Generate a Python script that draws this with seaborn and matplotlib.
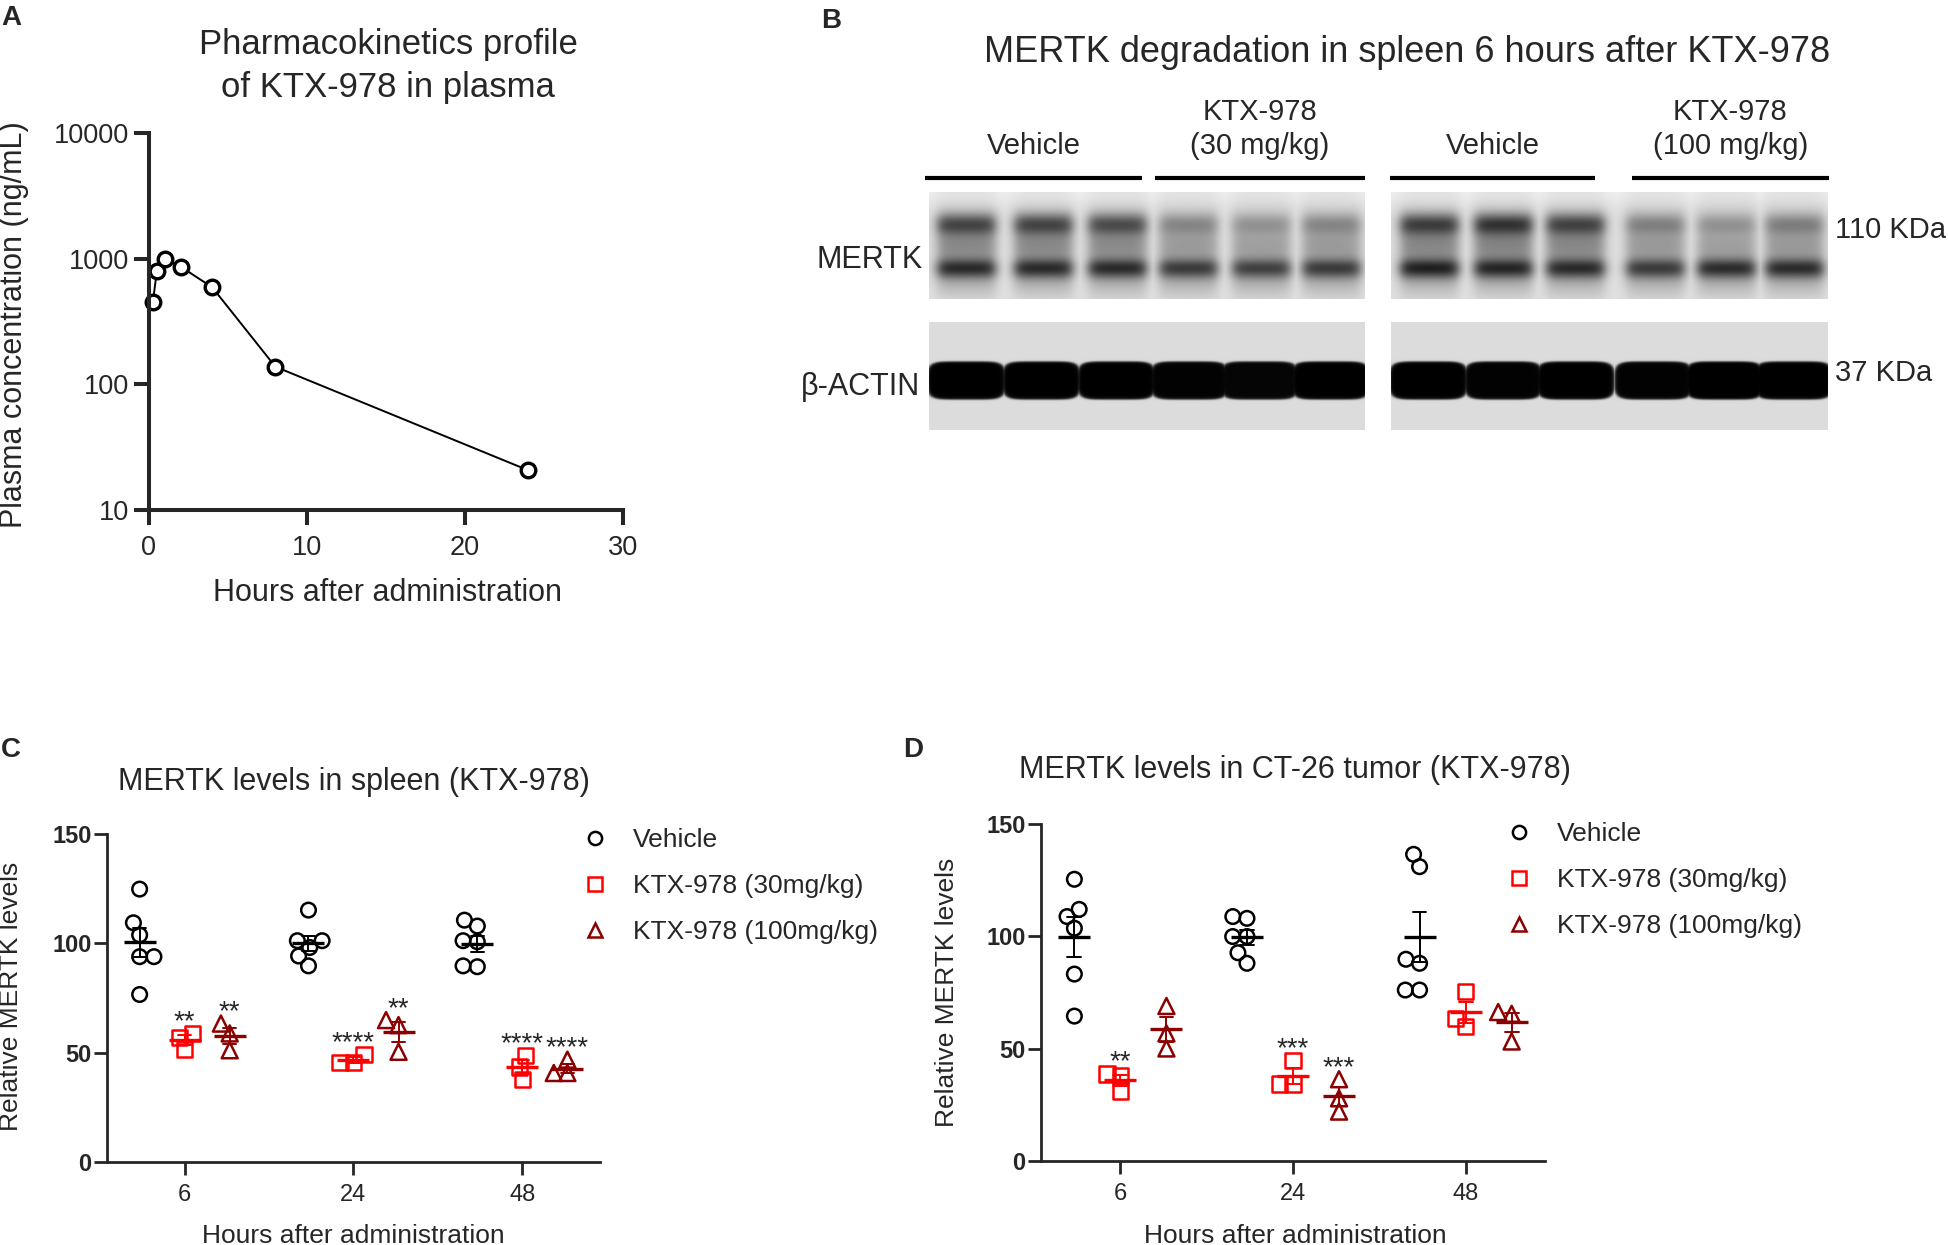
import numpy as np
import pandas as pd
import matplotlib
matplotlib.use('Agg')
import matplotlib.pyplot as plt
from matplotlib.lines import Line2D
from matplotlib.ticker import NullLocator
import seaborn as sns

W, H = 1949, 1245

# ---- panel A: plasma PK ----
pk_hours = [0.25, 0.5, 1, 2, 4, 8, 24]
pk_conc = [455, 803, 995, 864, 592, 138, 20.7]

# ---- panel B: western blot, band darkness per lane (0 = none, 1 = black) ----
blot_groups = ['Vehicle', 'KTX-978\n(30 mg/kg)', 'Vehicle', 'KTX-978\n(100 mg/kg)']
mertk_upper = [0.55, 0.55, 0.52, 0.30, 0.25, 0.30, 0.58, 0.62, 0.56, 0.32, 0.25, 0.33]
mertk_lower = [0.64, 0.64, 0.64, 0.58, 0.56, 0.58, 0.68, 0.66, 0.64, 0.58, 0.64, 0.64]
actin_band = [0.86, 0.86, 0.86, 0.85, 0.84, 0.86, 0.86, 0.85, 0.86, 0.85, 0.87, 0.86]

# ---- panels C and D: relative MERTK levels ----
times = ['6', '24', '48']
groups = ['Vehicle', 'KTX-978 (30mg/kg)', 'KTX-978 (100mg/kg)']

spleen_vehicle = [[124.8, 109.4, 103.8, 93.9, 93.9, 76.6],
                  [115.2, 101.2, 101.2, 98.1, 94.2, 89.7],
                  [107.9, 110.6, 100.7, 101.2, 89.3, 89.7]]
spleen_30 = [[58.8, 56.9, 51.4], [45.5, 49.3, 45.5], [48.8, 43.5, 37.7]]
spleen_100 = [[63.3, 58.8, 51.1], [64.9, 62.6, 50.4], [46.8, 40.7, 40.7]]
spleen_stars = [['', '**', '**'], ['', '****', '**'], ['', '****', '****']]

tumor_vehicle = [[125.4, 112.0, 108.8, 103.6, 83.2, 64.5],
                 [108.0, 108.8, 99.9, 99.9, 92.7, 88.0],
                 [131.0, 136.5, 88.0, 89.8, 76.1, 76.1]]
tumor_30 = [[38.7, 38.0, 31.2], [44.7, 34.3, 34.3], [75.4, 63.5, 59.8]]
tumor_100 = [[69.0, 56.8, 50.1], [36.4, 27.9, 22.0], [66.3, 65.5, 53.2]]
tumor_stars = [['', '**', ''], ['', '***', '***'], ['', '', '']]

colors = ['black', '#ff0000', '#8b0000']
markers = ['o', 's', '^']
palette = dict(zip(groups, colors))

sns.set_style('ticks')
plt.rcParams['font.family'] = ['Liberation Sans', 'DejaVu Sans']
plt.rcParams['axes.linewidth'] = 2.0


def rect_px(x0, y0, x1, y1):
    return [x0 / W, 1 - y1 / H, (x1 - x0) / W, (y1 - y0) / H]


def fxy(x, y):
    return x / W, 1 - y / H


def to_frame(vehicle, low, high):
    rows = []
    for g, series in zip(groups, [vehicle, low, high]):
        for t, vals in zip(times, series):
            for v in vals:
                rows.append((t, g, v))
    return pd.DataFrame(rows, columns=['time', 'group', 'value'])


fig = plt.figure(figsize=(W / 100, H / 100), dpi=100)

# ---------------- A ----------------
ax_a = fig.add_axes(rect_px(149, 133, 623, 510))
sns.lineplot(x=pk_hours, y=pk_conc, ax=ax_a, color='black', lw=1.4, marker='o',
             markersize=10.5, markerfacecolor='white', markeredgecolor='black',
             markeredgewidth=2.4)
for ln in ax_a.lines:
    ln.set_clip_on(False)
ax_a.set_yscale('log')
ax_a.set_ylim(10, 10000)
ax_a.set_xlim(0, 30)
ax_a.set_yticks([10, 100, 1000, 10000])
ax_a.set_yticklabels(['10', '100', '1000', '10000'])
ax_a.yaxis.set_minor_locator(NullLocator())
ax_a.set_xticks([0, 10, 20, 30])
sns.despine(ax=ax_a)
for s in ['left', 'bottom']:
    ax_a.spines[s].set_linewidth(2.9)
ax_a.tick_params(width=2.9, length=11, labelsize=19.5, pad=3)
ax_a.tick_params(axis='x', pad=7)
fig.text(*fxy(388, 66), 'Pharmacokinetics profile\nof KTX-978 in plasma',
         ha='center', va='center', size=25, linespacing=1.35)
fig.text(*fxy(388, 593), 'Hours after administration', ha='center', va='center', size=22)
fig.text(*fxy(14, 325), 'Plasma concentration (ng/mL)', ha='center', va='center',
         size=22, rotation=90)

# ---------------- B ----------------
ax_b = fig.add_axes([0, 0, 1, 1], zorder=-1)
ax_b.axis('off')
mertk_lane_x = [[37, 114, 188, 259, 332, 402], [38, 112, 184, 264, 335, 403]]
actin_lane_x = [[37, 112, 187, 260, 330, 401], [37, 112, 184, 262, 333, 402]]
blot_x = [(929, 1365), (1391, 1828)]


def lane_profile(xs, centers, half, soft):
    prof = np.zeros((len(centers), xs.size))
    for k, c in enumerate(centers):
        prof[k] = 1 / (1 + np.exp((np.abs(xs - c) - half) / soft))
    return prof


for b in range(2):
    x0, x1 = blot_x[b]
    w = x1 - x0
    xs = np.arange(w)
    # MERTK blot
    h = 107
    ys = np.arange(h)[:, None]
    dark = np.zeros((h, w))
    prof = lane_profile(xs, mertk_lane_x[b], 29, 3.5)
    for k in range(6):
        i = b * 6 + k
        band = (mertk_upper[i] * np.exp(-0.5 * ((ys - 32) / 8.5) ** 2)
                + mertk_lower[i] * np.exp(-0.5 * ((ys - 76) / 7.5) ** 2)
                + (0.14 + 0.25 * mertk_upper[i]) * np.exp(-0.5 * ((ys - 54) / 10) ** 2)
                + 0.10 * np.exp(-0.5 * ((ys - 93) / 8) ** 2)
                + 0.04)
        dark = np.maximum(dark, band * prof[k][None, :])
    img = 0.93 - 0.05 * (1 - np.exp(-(ys / 12.0) ** 2)) - dark
    ax_b.imshow(np.clip(img, 0, 1), cmap='gray', vmin=0, vmax=1, aspect='auto',
                extent=(x0, x1, 192 + h, 192), interpolation='bilinear')
    # actin blot: rounded, nearly touching bands
    h = 108
    ys = np.arange(h)[:, None]
    dark = np.zeros((h, w))
    for k, c in enumerate(actin_lane_x[b]):
        i = b * 6 + k
        r = (np.abs(xs[None, :] - c) / 39.0) ** 6 + (np.abs(ys - 58) / 19.0) ** 4
        dark = np.maximum(dark, actin_band[i] / (1 + np.exp((r - 1) / 0.12)))
    img = 0.86 - dark
    ax_b.imshow(np.clip(img, 0, 1), cmap='gray', vmin=0, vmax=1, aspect='auto',
                extent=(x0, x1, 322 + h, 322), interpolation='bilinear')

for (s0, s1), lab in zip([(925, 1142), (1155, 1365), (1390, 1595), (1632, 1829)], blot_groups):
    ax_b.plot([s0, s1], [178, 178], color='black', lw=3, solid_capstyle='butt')
    ax_b.text((s0 + s1) / 2, 160, lab, ha='center', va='bottom', size=21, linespacing=1.25)
ax_b.text(1407, 52, 'MERTK degradation in spleen 6 hours after KTX-978',
          ha='center', va='center', size=26)
ax_b.text(923, 260, 'MERTK', ha='right', va='center', size=22)
ax_b.text(920, 387, 'β-ACTIN', ha='right', va='center', size=22)
ax_b.text(1835, 230, '110 KDa', ha='left', va='center', size=21)
ax_b.text(1835, 373, '37 KDa', ha='left', va='center', size=21)
ax_b.set_xlim(0, W)
ax_b.set_ylim(H, 0)

# ---------------- C and D ----------------
# swarm layout uses a tighter marker size, like the overlapping points of the original
layout_sizes = [8, 7.5, 7.5]
shown_sizes = [10.5, 11, 11.5]
swarm_colls = []


def mertk_panel(rect, df, stars, title, title_xy, ylab_xy, xlab_xy, leg_xy):
    ax = fig.add_axes(rect)
    for g, m, sz, big in zip(groups, markers, layout_sizes, shown_sizes):
        n0 = len(ax.collections)
        sns.swarmplot(data=df[df['group'] == g], x='time', y='value', hue='group',
                      order=times, hue_order=groups, dodge=True, palette=palette,
                      marker=m, size=sz, linewidth=1.8, legend=False, ax=ax)
        for coll in ax.collections[n0:]:
            coll.set_facecolor('none')
            coll.set_edgecolor(palette[g])
            coll.set_linewidth(1.8)
            swarm_colls.append((coll, big))
    sns.pointplot(data=df, x='time', y='value', hue='group', order=times,
                  hue_order=groups, dodge=0.534, errorbar='se', markers='_',
                  linestyles='none', markersize=23, markeredgewidth=2.4,
                  capsize=0.08, err_kws={'linewidth': 1.4}, palette=palette,
                  legend=False, ax=ax)
    offsets = [-0.267, 0, 0.267]
    for i, t in enumerate(times):
        for j, g in enumerate(groups):
            if stars[i][j]:
                top = df[(df['time'] == t) & (df['group'] == g)]['value'].max()
                ax.text(i + offsets[j], top + 2, stars[i][j], ha='center',
                        va='baseline', size=20)
    ax.set_ylim(0, 150)
    ax.set_xlim(-0.46, 2.46)
    ax.set_yticks([0, 50, 100, 150])
    ax.set_xlabel('')
    ax.set_ylabel('')
    sns.despine(ax=ax)
    ax.tick_params(width=2.0, length=9.5, labelsize=17)
    ax.tick_params(axis='x', pad=6)
    ax.tick_params(axis='y', pad=1.5)
    for lab in ax.get_yticklabels():
        lab.set_fontweight('bold')
    fig.text(*fxy(*title_xy), title, ha='center', va='center', size=22)
    fig.text(*fxy(*ylab_xy), 'Relative MERTK levels', ha='center', va='center',
             size=19, rotation=90)
    fig.text(*fxy(*xlab_xy), 'Hours after administration', ha='center',
             va='center', size=19)
    handles = [Line2D([], [], ls='none', marker=m, ms=s, mfc='none', mec=c, mew=1.8)
               for m, c, s in zip(markers, colors, [9.5, 10, 9.5])]
    fig.legend(handles, groups, loc='upper left', bbox_to_anchor=fxy(*leg_xy),
               frameon=False, fontsize=19, handlelength=0.8, handletextpad=1.05,
               labelspacing=0.83, borderpad=0, borderaxespad=0)
    return ax


mertk_panel(rect_px(107, 834, 600, 1162), to_frame(spleen_vehicle, spleen_30, spleen_100),
            spleen_stars, 'MERTK levels in spleen (KTX-978)', (354, 782), (11, 996),
            (353, 1236), (584, 828))
mertk_panel(rect_px(1041, 824, 1545, 1161), to_frame(tumor_vehicle, tumor_30, tumor_100),
            tumor_stars, 'MERTK levels in CT-26 tumor (KTX-978)', (1295, 770), (947, 992),
            (1295, 1236), (1508, 822))

for lab, (x, y) in zip('ABCD', [(1, 18), (821, 21), (1, 750), (903, 750)]):
    fig.text(*fxy(x, y), lab, ha='left', va='center', size=20, weight='bold')

# fix the swarm positions at the final axis limits, then show the markers full size
fig.canvas.draw()
for coll, big in swarm_colls:
    if 'draw' in coll.__dict__:
        del coll.draw
    coll.set_sizes([big ** 2])

fig.savefig('out.png', dpi=100)
